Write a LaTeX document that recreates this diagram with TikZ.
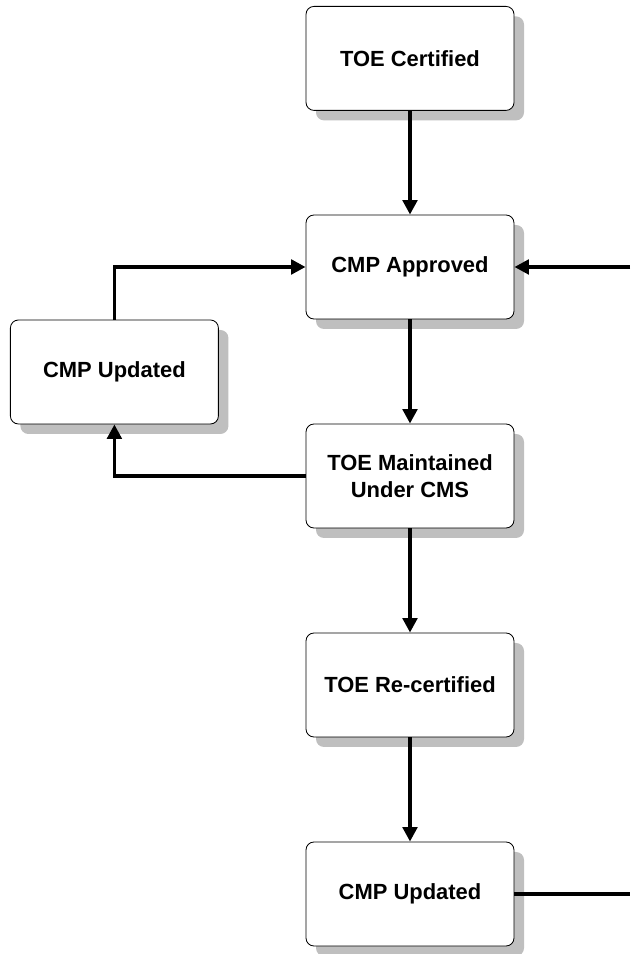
\documentclass[tikz,border=0pt]{standalone}
\usepackage{fontspec}
\setmainfont{Liberation Sans}
\usetikzlibrary{arrows.meta,shadows}
\begin{document}
\begin{tikzpicture}[
    stage/.style={rectangle,draw,rounded corners=0.2cm,line width=0.6pt,fill=white,
        minimum width=5.2cm,minimum height=2.6cm,align=center,
        font=\fontsize{15.6}{19}\selectfont\bfseries,
        drop shadow={shadow xshift=0.25cm,shadow yshift=-0.25cm,fill=black!25,opacity=1}},
    flow/.style={line width=2.7pt,-{Triangle[length=0.36cm,width=0.36cm]}},
    line/.style={line width=2.7pt}]
    \useasboundingbox (0,0) rectangle (15.75,23.85);
    \node[stage] at (10.25,22.39) (cert) {TOE Certified};
    \node[stage] at (10.25,17.175) (appr) {CMP Approved};
    \node[stage] at (2.86,14.55) (upd1) {CMP Updated};
    \node[stage] at (10.25,11.95) (maint) {TOE Maintained\\Under CMS};
    \node[stage] at (10.25,6.725) (recert) {TOE Re-certified};
    \node[stage] at (10.25,1.5) (upd2) {CMP Updated};
    \coordinate (in) at (15.75,17.175);
    \coordinate (out) at (15.75,1.5);
    \draw[flow] (cert)--(appr);
    \draw[flow] (appr)--(maint);
    \draw[flow] (maint)--(recert);
    \draw[flow] (recert)--(upd2);
    \draw[flow] (upd1.north) |- (appr.west);
    \draw[flow] (maint.west) -| (upd1.south);
    \draw[flow] (in)--(appr.east);
    \draw[line] (upd2.east)--(out);
\end{tikzpicture}
\end{document}
